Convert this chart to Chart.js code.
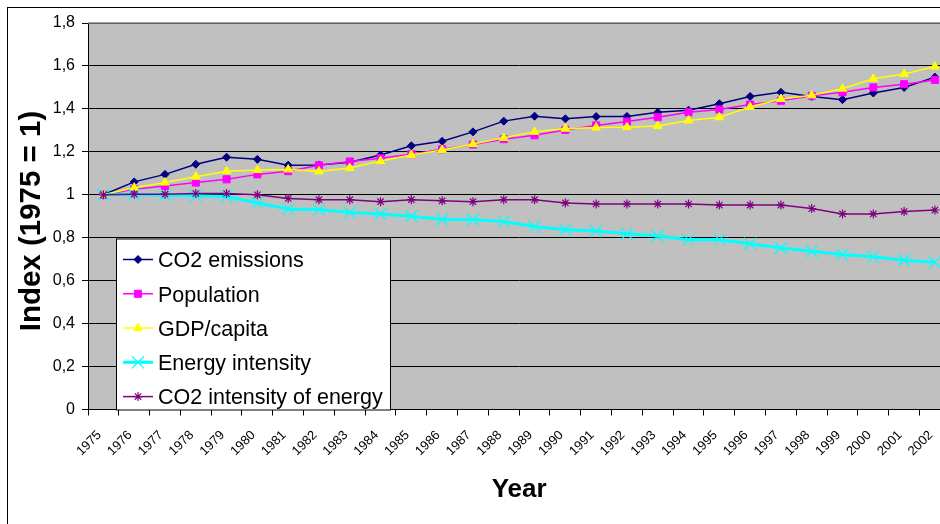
<!DOCTYPE html>
<html>
<head>
<meta charset="utf-8">
<script src="https://cdn.jsdelivr.net/npm/chart.js@4.4.1/dist/chart.umd.min.js"></script>
<style>
  html, body { margin: 0; padding: 0; overflow: hidden; background: #fff; width: 940px; height: 524px; }
  #frame { position: absolute; left: 7px; top: 7px; width: 1000px; height: 600px; border: 1.5px solid #000; box-sizing: border-box; }
  #chart { position: absolute; left: 0; top: 0; }
</style>
</head>
<body>
<div id="frame"></div>
<canvas id="chart" width="960" height="524"></canvas>
<script>
// Index values, 1975 = 1
const years = ['1975','1976','1977','1978','1979','1980','1981','1982','1983','1984',
  '1985','1986','1987','1988','1989','1990','1991','1992','1993','1994',
  '1995','1996','1997','1998','1999','2000','2001','2002'];

const co2Emissions = [1.000,1.060,1.095,1.142,1.175,1.165,1.138,1.139,1.151,1.185,
  1.228,1.249,1.293,1.343,1.366,1.354,1.364,1.365,1.384,1.394,
  1.424,1.458,1.477,1.458,1.443,1.474,1.500,1.548];

const population = [1.000,1.026,1.041,1.057,1.072,1.095,1.110,1.137,1.155,1.170,
  1.189,1.212,1.234,1.259,1.277,1.302,1.323,1.341,1.361,1.384,
  1.397,1.420,1.438,1.461,1.477,1.500,1.515,1.535];

const gdpPerCapita = [1.000,1.033,1.057,1.084,1.110,1.115,1.118,1.109,1.125,1.157,
  1.185,1.209,1.236,1.265,1.293,1.308,1.313,1.315,1.320,1.346,
  1.361,1.409,1.446,1.463,1.494,1.540,1.563,1.597];

const energyIntensity = [1.000,1.000,0.998,0.995,0.992,0.962,0.934,0.931,0.918,0.911,
  0.900,0.885,0.885,0.875,0.852,0.837,0.831,0.818,0.808,0.791,
  0.791,0.772,0.752,0.737,0.722,0.711,0.695,0.686];

const co2IntensityOfEnergy = [1.000,1.003,1.003,1.006,1.006,1.000,0.983,0.977,0.977,0.968,
  0.977,0.972,0.968,0.977,0.977,0.962,0.957,0.957,0.957,0.957,
  0.952,0.952,0.952,0.936,0.911,0.911,0.922,0.929];

const yTicks = { min: 0, max: 1.8, step: 0.2 };

const yTitle = 'Index (1975 = 1)';
const xTitle = 'Year';

const FONT = "'Liberation Sans', Arial, Helvetica, sans-serif";

const series = [
  { label: 'CO2 emissions', data: co2Emissions, color: '#000080', width: 1.5, style: 'rectRot', radius: 4, pbw: 1 },
  { label: 'Population', data: population, color: '#FF00FF', width: 1.5, style: 'rect', radius: 5, pbw: 1 },
  { label: 'GDP/capita', data: gdpPerCapita, color: '#FFFF00', width: 1.5, style: 'triangle', radius: 5, pbw: 1 },
  { label: 'Energy intensity', data: energyIntensity, color: '#00FFFF', width: 3, style: 'crossRot', radius: 8.5, pbw: 1.2 },
  { label: 'CO2 intensity of energy', data: co2IntensityOfEnergy, color: '#800080', width: 1.5, style: 'star', radius: 4.5, pbw: 1.2 }
];

// plot background, light frame on the top and right edges, vertical axis title
const plotFrame = {
  id: 'plotFrame',
  beforeDraw(chart) {
    const { ctx, chartArea: a } = chart;
    ctx.save();
    ctx.fillStyle = '#C0C0C0';
    ctx.fillRect(a.left, a.top, a.right - a.left, a.bottom - a.top);
    ctx.restore();
  },
  afterDatasetsDraw(chart) {
    const { ctx, chartArea: a } = chart;
    ctx.save();
    ctx.strokeStyle = '#808080';
    ctx.lineWidth = 1.5;
    ctx.beginPath();
    ctx.moveTo(a.left, a.top);
    ctx.lineTo(a.right, a.top);
    ctx.lineTo(a.right, a.bottom);
    ctx.stroke();
    ctx.translate(31.5, 221);
    ctx.rotate(-Math.PI / 2);
    ctx.fillStyle = '#000';
    ctx.font = 'bold 29.5px ' + FONT;
    ctx.textAlign = 'center';
    ctx.textBaseline = 'middle';
    ctx.fillText(yTitle, 0, 0);
    ctx.restore();
  }
};

// boxed legend inside the lower-left part of the plot
const boxLegend = {
  id: 'boxLegend',
  afterDraw(chart) {
    const { ctx } = chart;
    const box = { x: 116.5, y: 239, w: 274, h: 171 };
    ctx.save();
    ctx.fillStyle = '#FFFFFF';
    ctx.fillRect(box.x, box.y, box.w, box.h);
    ctx.strokeStyle = '#000';
    ctx.lineWidth = 1;
    ctx.strokeRect(box.x, box.y, box.w, box.h);
    const rows = [259.5, 293.8, 328, 362.3, 396.6];
    chart.data.datasets.forEach((ds, i) => {
      const y = rows[i];
      ctx.strokeStyle = ds.borderColor;
      ctx.lineWidth = ds.borderWidth;
      ctx.beginPath();
      ctx.moveTo(123, y);
      ctx.lineTo(153, y);
      ctx.stroke();
      ctx.fillStyle = ds.pointBackgroundColor;
      ctx.strokeStyle = ds.pointBorderColor;
      ctx.lineWidth = ds.pointBorderWidth;
      Chart.helpers.drawPoint(ctx, { pointStyle: ds.pointStyle, radius: ds.pointRadius, rotation: 0, borderWidth: ds.pointBorderWidth }, 138, y);
      ctx.fillStyle = '#000';
      ctx.font = '21.5px ' + FONT;
      ctx.textBaseline = 'alphabetic';
      ctx.textAlign = 'left';
      ctx.fillText(ds.label, 158, y + 7.7);
    });
    ctx.restore();
  }
};

const datasets = series.map((s, i) => ({
  label: s.label,
  data: s.data,
  borderColor: s.color,
  backgroundColor: s.color,
  borderWidth: s.width,
  pointStyle: s.style,
  pointRadius: s.radius,
  pointBackgroundColor: s.color,
  pointBorderColor: s.color,
  pointBorderWidth: s.pbw,
  pointHoverRadius: s.radius,
  tension: 0,
  fill: false,
  order: series.length - 1 - i
}));

new Chart(document.getElementById('chart'), {
  type: 'line',
  data: { labels: years, datasets },
  options: {
    responsive: false,
    animation: false,
    events: [],
    layout: { padding: { left: 0, right: 8, top: 23, bottom: 0 } },
    plugins: { legend: { display: false }, tooltip: { enabled: false } },
    scales: {
      x: {
        offset: true,
        grid: { offset: true, drawOnChartArea: false, color: '#000', tickColor: '#000', tickLength: 6, lineWidth: 1 },
        border: { color: '#000', width: 1 },
        ticks: {
          autoSkip: false, minRotation: 45, maxRotation: 45, padding: 12, labelOffset: -4,
          color: '#000', font: { family: FONT, size: 13 }
        },
        title: {
          display: true, text: xTitle, color: '#000',
          font: { family: FONT, size: 26, weight: 'bold' },
          padding: { top: 0, bottom: 19 }
        },
        afterFit(scale) { scale.height = 114.5; }
      },
      y: {
        min: yTicks.min,
        max: yTicks.max,
        grid: { color: '#000', tickColor: '#000', tickLength: 6, lineWidth: 1 },
        border: { color: '#000', width: 1 },
        ticks: {
          stepSize: yTicks.step, padding: 7, color: '#000',
          font: { family: FONT, size: 16 },
          callback: v => String(Math.round(v * 10) / 10).replace('.', ',')
        },
        title: { display: false },
        afterFit(scale) { scale.width = 88; }
      }
    }
  },
  plugins: [plotFrame, boxLegend]
});
</script>
</body>
</html>
